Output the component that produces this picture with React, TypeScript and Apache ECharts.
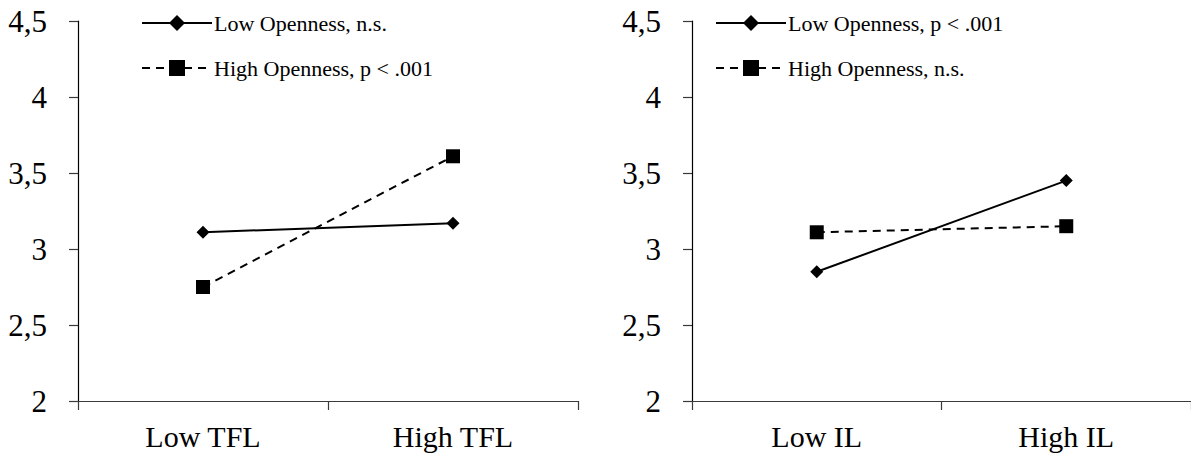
import React, { useEffect, useRef } from 'react';
import * as echarts from 'echarts';

const leftCategories = ['Low TFL', 'High TFL'];
const rightCategories = ['Low IL', 'High IL'];

const leftLowName = 'Low Openness, n.s.';
const leftHighName = 'High Openness, p < .001';
const rightLowName = 'Low Openness, p < .001';
const rightHighName = 'High Openness, n.s.';

const leftLowValues = [3.11, 3.17];
const leftHighValues = [2.75, 3.61];
const rightLowValues = [2.85, 3.45];
const rightHighValues = [3.11, 3.15];

const yMin = 2;
const yMax = 4.5;
const yStep = 0.5;

const FONT = "'Liberation Serif', 'Times New Roman', serif";
const AXIS_COLOR = '#3a3a3a';

export default function App() {
  const ref = useRef<HTMLDivElement>(null);

  useEffect(() => {
    if (!ref.current) return;
    const chart = echarts.init(ref.current, undefined, { renderer: 'svg' });

    const makeX = (gridIndex: number, data: string[]) => ({
      type: 'category',
      gridIndex,
      data,
      boundaryGap: true,
      axisLine: { show: true, lineStyle: { color: AXIS_COLOR, width: 1.2 } },
      axisTick: { show: true, length: 9, inside: false, lineStyle: { color: AXIS_COLOR, width: 1.2 } },
      axisLabel: { color: '#000', fontFamily: FONT, fontSize: 30, margin: 20 },
      splitLine: { show: false },
    });

    const makeY = (gridIndex: number) => ({
      type: 'value',
      gridIndex,
      min: yMin,
      max: yMax,
      interval: yStep,
      axisLine: { show: true, lineStyle: { color: '#000', width: 1.2 } },
      axisTick: { show: true, length: 9, inside: false, lineStyle: { color: AXIS_COLOR, width: 1.2 } },
      axisLabel: {
        color: '#000',
        fontFamily: FONT,
        fontSize: 31,
        margin: 31,
        formatter: (v: number) => String(v).replace('.', ','),
      },
      splitLine: { show: false },
    });

    const lowSeries = (name: string, data: number[], idx: number) => ({
      name,
      type: 'line',
      xAxisIndex: idx,
      yAxisIndex: idx,
      data,
      symbol: 'diamond',
      symbolSize: 13,
      lineStyle: { color: '#000', width: 2, type: 'solid' },
      itemStyle: { color: '#000' },
    });

    const highSeries = (name: string, data: number[], idx: number) => ({
      name,
      type: 'line',
      xAxisIndex: idx,
      yAxisIndex: idx,
      data,
      symbol: 'rect',
      symbolSize: 14,
      lineStyle: { color: '#000', width: 2, type: [8, 6] },
      itemStyle: { color: '#000' },
    });

    const legendCommon = {
      orient: 'vertical',
      itemWidth: 70,
      itemHeight: 20,
      itemGap: 23,
      textStyle: { color: '#000', fontFamily: FONT, fontSize: 22, padding: [0, 0, 0, -3] },
    };

    chart.setOption({
      animation: false,
      backgroundColor: '#fff',
      grid: [
        { left: 78, top: 21, width: 500, height: 380 },
        { left: 692, top: 21, width: 500, height: 380 },
      ],
      xAxis: [makeX(0, leftCategories), makeX(1, rightCategories)],
      yAxis: [makeY(0), makeY(1)],
      legend: [
        { ...legendCommon, left: 136, top: 7, data: [leftLowName, leftHighName] },
        { ...legendCommon, left: 710, top: 7, data: [rightLowName, rightHighName] },
      ],
      series: [
        lowSeries(leftLowName, leftLowValues, 0),
        highSeries(leftHighName, leftHighValues, 0),
        lowSeries(rightLowName, rightLowValues, 1),
        highSeries(rightHighName, rightHighValues, 1),
      ],
    });

    return () => chart.dispose();
  }, []);

  return (
    <div
      ref={ref}
      style={{ position: 'fixed', left: 0, top: 0, width: 1191, height: 458, background: '#fff' }}
    />
  );
}
